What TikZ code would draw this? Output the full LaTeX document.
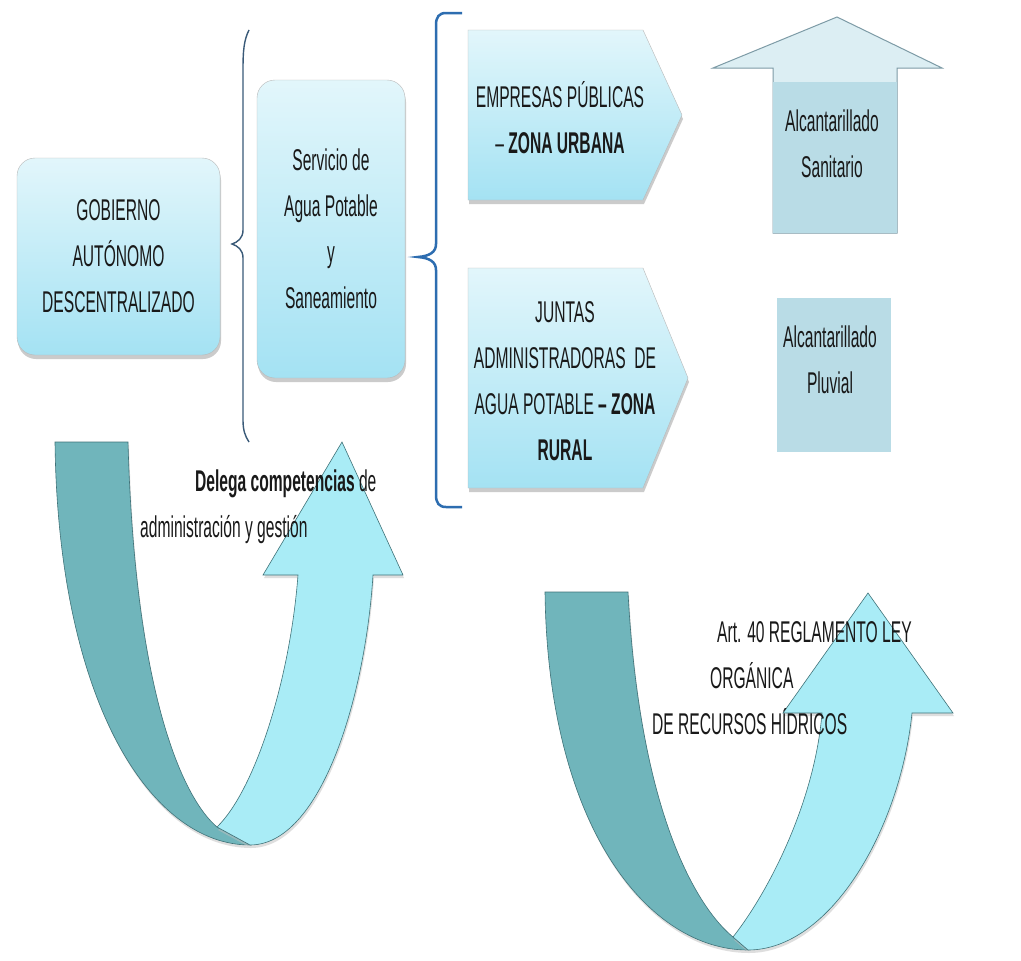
\documentclass[tikz,border=0pt]{standalone}
\usepackage{fontspec}
\setmainfont{Liberation Sans}[FakeStretch=0.52]
\usetikzlibrary{positioning}
\usetikzlibrary{shadows}

\definecolor{boxtop}{HTML}{E2F6FB}
\definecolor{boxbot}{HTML}{A4E2F3}
\definecolor{ribdark}{HTML}{70B5BB}
\definecolor{riblight}{HTML}{A9ECF6}
\definecolor{ribline}{HTML}{3F7278}
\definecolor{bracedark}{HTML}{3A5A78}
\definecolor{braceblue}{HTML}{2D6DB0}
\definecolor{upfill}{HTML}{DCEEF3}
\definecolor{upline}{HTML}{7D9BA6}
\definecolor{sqfill}{HTML}{B9DCE6}

\tikzset{
  lbl/.style={font=\fontsize{30}{46}\selectfont, inner sep=0pt, align=center, text=black!90},
  roundbox/.style={lbl, draw=gray!55, rounded corners=18pt, top color=boxtop, bottom color=boxbot,
    drop shadow={shadow xshift=1pt, shadow yshift=-4pt, fill=black!40}},
  penta/.style={draw=gray!55, top color=boxtop, bottom color=boxbot,
    drop shadow={shadow xshift=1pt, shadow yshift=-4pt, fill=black!40}},
  ribbon/.style={draw=ribline, line width=0.6pt,
    drop shadow={shadow xshift=1pt, shadow yshift=-3pt, fill=black!25}},
  sqbox/.style={fill=sqfill, inner sep=0pt},
}

\begin{document}
\begin{tikzpicture}[x=1pt, y={(0pt,-1pt)}]
\fill[white] (0,0) rectangle (1021,961);
\useasboundingbox (0,0) rectangle (1021,961);

% left part
\node[roundbox, minimum width=203pt, minimum height=197pt] (gad) at (118.5,256.5) {GOBIERNO\\AUTÓNOMO\\DESCENTRALIZADO};
\node[roundbox, minimum width=148pt, minimum height=298pt] (servicio) at (331,229) {Servicio de\\Agua Potable\\y\\Saneamiento};

% braces
\draw[bracedark, line width=1.4pt] (249,30) .. controls (244,40) and (243,50) .. (243,70) -- (243,230)
  .. controls (243,238) and (238,242) .. (232,244) .. controls (238,246) and (243,250) .. (243,258)
  -- (243,420) .. controls (243,430) and (245,436) .. (249,442);
\draw[braceblue, line width=2.5pt] (462,13) -- (446,13) .. controls (439,13) and (436,17) .. (436,25) -- (436,244)
  .. controls (436,252) and (430,256) .. (418,257) .. controls (430,258) and (436,262) .. (436,270)
  -- (436,495) .. controls (436,503) and (439,507) .. (446,507) -- (462,507);

% zones
\path[penta] (468,30) -- (643,30) -- (682,115) -- (643,200) -- (468,200) -- cycle;
\node[lbl] (empresas) at (560,118) {EMPRESAS PÚBLICAS\\– \textbf{ZONA URBANA}};
\path[penta] (468,268) -- (643,268) -- (688,378) -- (643,488) -- (468,488) -- cycle;
\node[lbl] (juntas) at (565,381) {JUNTAS\\ADMINISTRADORAS\ \ DE\\AGUA POTABLE \textbf{– ZONA}\\\textbf{RURAL}};

% sewers
\path[draw=upline, fill=upfill, line width=1pt] (713,68) -- (837,17) -- (942,68) -- (897,68) -- (897,233) -- (773,233) -- (773,68) -- cycle;
\node[sqbox, minimum width=124pt, minimum height=151pt] (sanitario) at (835,157.5) {};
\node[lbl] (sanitariotxt) at (832,144) {Alcantarillado\\Sanitario};
\node[sqbox, minimum width=114pt, minimum height=154pt] (pluvial) at (834,375) {};
\node[lbl] (pluvialtxt) at (830,360) {Alcantarillado\\Pluvial};

% u-turn arrows
\path[ribbon, fill=ribdark] (55,442) -- (128,442) .. controls (135,700) and (185,800) .. (217,827)
  -- (250,845) .. controls (150,845) and (58,700) .. (55,442) -- cycle;
\path[ribbon, fill=riblight] (217,827) .. controls (255,790) and (290,680) .. (298,575) -- (263,575)
  -- (342,442) -- (403,575) -- (373,575) .. controls (365,700) and (320,845) .. (250,845) -- cycle;
\path[ribbon, fill=ribdark] (545,592) -- (628,592) .. controls (640,820) and (700,910) .. (733,937)
  -- (748,950) .. controls (650,950) and (548,830) .. (545,592) -- cycle;
\path[ribbon, fill=riblight] (733,937) .. controls (770,890) and (815,800) .. (822,713) -- (783,713)
  -- (868,593) -- (953,713) -- (912,713) .. controls (900,830) and (830,950) .. (748,950) -- cycle;

\node[lbl, align=left, anchor=north west] (delega) at (140,470) {\hspace*{55pt}\textbf{Delega competencias} de\\administración y gestión};
\node[lbl, align=left, anchor=north west] (reglamento) at (652,621) {\hspace*{65pt}Art. 40 REGLAMENTO LEY\\\hspace*{58pt}ORGÁNICA\\DE RECURSOS HÍDRICOS};
\end{tikzpicture}
\end{document}
